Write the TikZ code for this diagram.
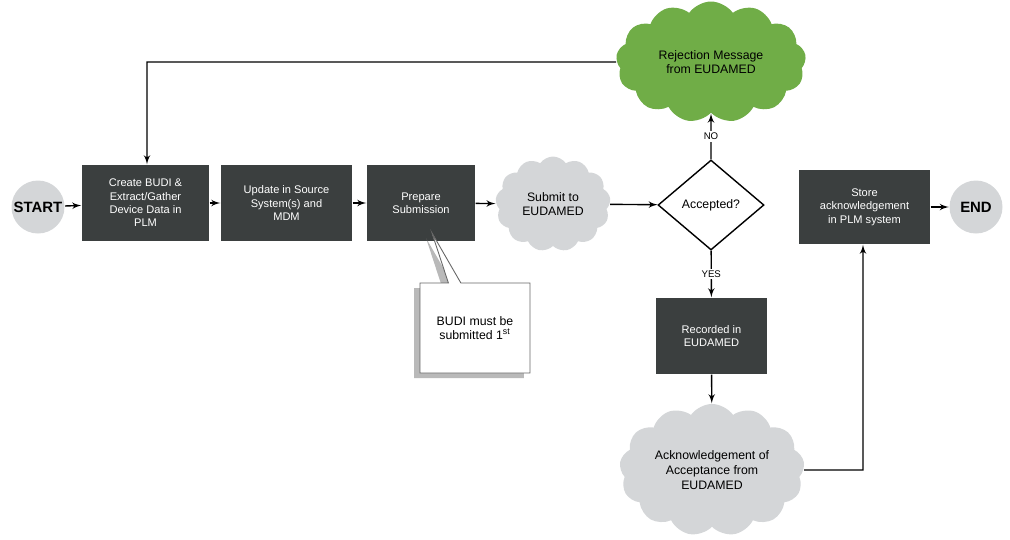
\documentclass[tikz,border=0pt]{standalone}
\usepackage{fontspec}
\setmainfont{Liberation Sans}
\usetikzlibrary{arrows,shapes.geometric,shapes.symbols,shapes.callouts,shadows}
\definecolor{boxgrey}{HTML}{3B3F3F}
\definecolor{cloudgrey}{HTML}{D4D6D8}
\definecolor{cloudgreen}{HTML}{70AD47}
\tikzset{
  stage/.style={draw=none, fill=boxgrey, text=white, align=center, inner sep=1pt,
    font=\fontsize{6.3}{7.6}\selectfont},
  term/.style={circle, fill=cloudgrey, minimum size=1.06cm, inner sep=0pt,
    font=\fontsize{8.5}{10}\selectfont\bfseries},
  msg/.style={cloud, cloud puffs=13, cloud puff arc=110, aspect=1.4, align=center,
    inner sep=0pt, font=\fontsize{7}{8.4}\selectfont},
  tag/.style={font=\fontsize{5.5}{6.5}\selectfont, fill=white, inner sep=1pt}
}
\begin{document}
\begin{tikzpicture}[>= latex', x=0.02cm, y=-0.02cm, line width=0.8pt]
         \useasboundingbox (0,0) rectangle (1010,539);
         \node[term] (start) at (38,207) {START};
         \node[stage, minimum width=2.54cm, minimum height=1.52cm] (create) at (145.5,203) {Create BUDI \&\\Extract/Gather\\Device Data in\\PLM};
         \node[stage, minimum width=2.62cm, minimum height=1.52cm] (update) at (286.5,203) {Update in Source\\System(s) and\\MDM};
         \node[stage, minimum width=2.16cm, minimum height=1.52cm] (prep) at (421,203) {Prepare\\Submission};
         \node[msg, fill=cloudgrey, minimum width=2.3cm, minimum height=1.9cm] (submit) at (553,204) {Submit to\\EUDAMED};
         \node[diamond, draw, fill=white, minimum width=2.12cm, minimum height=1.8cm, inner sep=0pt,
           font=\fontsize{7}{8.4}\selectfont] (acc) at (711,205) {Accepted?};
         \node[msg, fill=cloudgreen, minimum width=3.8cm, minimum height=2.2cm] (reject) at (711,62) {Rejection Message\\from EUDAMED};
         \node[stage, minimum width=2.22cm, minimum height=1.52cm] (rec) at (711.5,336) {Recorded in\\EUDAMED};
         \node[msg, fill=cloudgrey, minimum width=3.7cm, minimum height=2.0cm] (ack) at (712,470) {Acknowledgement of\\Acceptance from\\EUDAMED};
         \node[stage, minimum width=2.62cm, minimum height=1.48cm] (store) at (864.5,207) {Store\\acknowledgement\\in PLM system};
         \node[term] (end) at (976,207) {END};
         % callout from the submission stage
         \node[rectangle callout, draw=black!60, line width=0.5pt, fill=white, drop shadow={shadow xshift=-0.12cm, shadow yshift=-0.1cm, fill=black!55},
           minimum width=2.2cm, minimum height=1.8cm, align=center, font=\fontsize{7}{8.4}\selectfont,
           callout absolute pointer={(432,233)}] (note) at (475,328) {BUDI must be\\submitted 1\textsuperscript{st}};
         \coordinate (back) at (147,62);
         \coordinate (turn) at (863,470);
         \draw[->] (start) -- (create);
         \draw[->] (create) -- (update);
         \draw[->] (update) -- (prep);
         \draw[->] (prep) -- (submit);
         \draw[->] (submit) -- (acc);
         \draw[->] (acc) -- node[tag]{NO} (reject);
         \draw[->] (acc) -- node[tag]{YES} (rec);
         \draw[->] (rec) -- (ack);
         \draw[->] (ack.east) -- (turn) -- (store.south -| turn);
         \draw[->] (store) -- (end);
         \draw[->] (reject.west) -- (back) -- (create.north -| back);
        \end{tikzpicture}
\end{document}
